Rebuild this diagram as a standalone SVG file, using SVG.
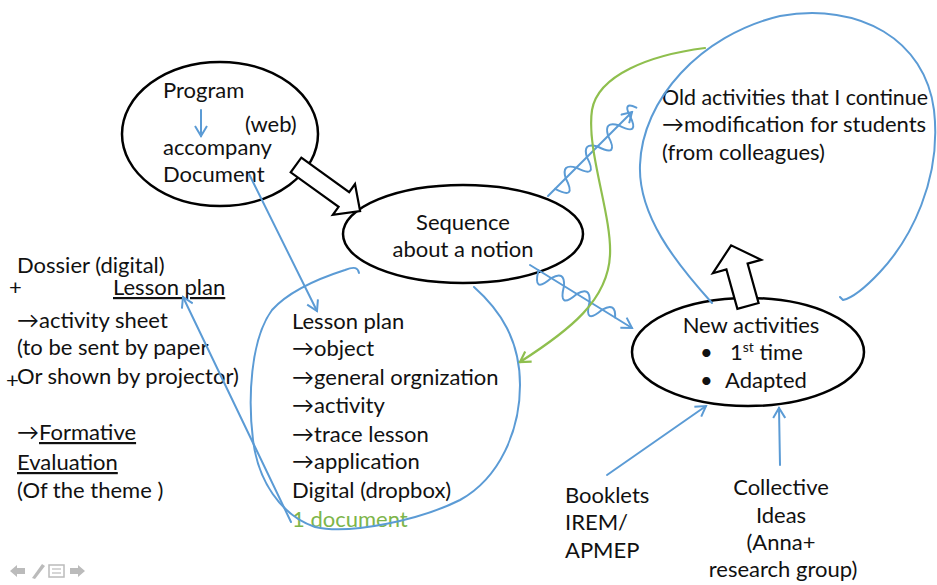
<svg xmlns="http://www.w3.org/2000/svg" width="937" height="585" viewBox="0 0 937 585">
<style>
text{font-family:Lato,"Open Sans","Liberation Sans",sans-serif;font-size:22px;fill:#111}
.ell{fill:#fff;stroke:#000;stroke-width:2.5}
.blk{fill:#fff;stroke:#000;stroke-width:2.2;stroke-linejoin:miter}
.bl{fill:none;stroke:#5b9bd5;stroke-width:2;stroke-linecap:round;stroke-linejoin:round}
.gr{fill:none;stroke:#8fbf4e;stroke-width:2.2;stroke-linecap:round}
.u{text-decoration:underline}
.nav{fill:#bbb}
</style>
<defs>
<marker id="ab" viewBox="-12 -7 14 14" refX="0" refY="0" markerWidth="14" markerHeight="14" markerUnits="userSpaceOnUse" orient="auto">
<path d="M-10,-6 L0,0 L-10,6" fill="none" stroke="#5b9bd5" stroke-width="2"/>
</marker>
<marker id="ag" viewBox="-12 -7 14 14" refX="0" refY="0" markerWidth="14" markerHeight="14" markerUnits="userSpaceOnUse" orient="auto">
<path d="M-10,-6 L0,0 L-10,6" fill="none" stroke="#8fbf4e" stroke-width="2.2"/>
</marker>
</defs>
<rect width="937" height="585" fill="#fff"/>

<g id="program">
<ellipse class="ell" cx="220" cy="134" rx="98" ry="72"/>
<text x="163" y="98">Program</text>
<text x="245" y="132">(web)</text>
<text x="163" y="155">accompany</text>
<text x="163" y="182">Document</text>
</g>

<g id="sequence">
<ellipse class="ell" cx="463" cy="234" rx="120" ry="49"/>
<text x="463" y="230" text-anchor="middle">Sequence</text>
<text x="463" y="257" text-anchor="middle">about a notion</text>
</g>

<g id="new-activities">
<ellipse class="ell" cx="748" cy="352" rx="116" ry="54"/>
<text x="751" y="333" text-anchor="middle">New activities</text>
<text x="700" y="360">•</text>
<text x="730" y="360">1<tspan font-size="14" dy="-8">st</tspan><tspan dy="8"> time</tspan></text>
<text x="700" y="388">•</text>
<text x="725" y="388">Adapted</text>
</g>

<g id="old-activities">
<text x="662" y="105" textLength="266" lengthAdjust="spacingAndGlyphs">Old activities that I continue</text>
<text x="662" y="132">→modification for students</text>
<text x="662" y="160">(from colleagues)</text>
</g>

<g id="dossier">
<text x="17" y="273">Dossier (digital)</text>
<text x="9" y="295">+</text>
<text x="113" y="295" class="u">Lesson plan</text>
<text x="17" y="328">→activity sheet</text>
<text x="17" y="355">(to be sent by paper</text>
<text x="17" y="384">Or shown by projector)</text>
<text x="6" y="388">+</text>
<text x="17" y="440">→<tspan class="u">Formative</tspan></text>
<text x="17" y="470" class="u">Evaluation</text>
<text x="17" y="498">(Of the theme )</text>
</g>

<g id="lesson-plan">
<text x="292" y="329">Lesson plan</text>
<text x="292" y="356">→object</text>
<text x="292" y="385">→general orgnization</text>
<text x="292" y="413">→activity</text>
<text x="292" y="442">→trace lesson</text>
<text x="292" y="469">→application</text>
<text x="292" y="498">Digital (dropbox)</text>
<text x="292" y="527" style="fill:#7db54a">1 document</text>
</g>

<g id="booklets">
<text x="565" y="503">Booklets</text>
<text x="565" y="530">IREM/</text>
<text x="565" y="558">APMEP</text>
</g>

<g id="collective">
<text x="781" y="495" text-anchor="middle">Collective</text>
<text x="781" y="523" text-anchor="middle">Ideas</text>
<text x="781" y="550" text-anchor="middle">(Anna+</text>
<text x="783" y="577" text-anchor="middle">research group)</text>
</g>

<g id="connectors">
<polygon class="blk" points="301.3,157.7 349.2,192.2 355,184.1 360.1,211.1 332.8,214.9 338.6,206.8 290.7,172.3"/>
<polygon class="blk" points="758.6,303.1 747.6,263.6 761.1,259.8 731.1,245.3 712.9,273.2 726.4,269.4 737.4,308.9"/>
<path class="bl" d="M201,110 L201,136" marker-end="url(#ab)"/>
<path class="bl" d="M249,174 L317,311" marker-end="url(#ab)"/>
<path class="bl" d="M291,522 L183,297" marker-end="url(#ab)"/>
<path class="bl" d="M359,273 C358,268 355,266 345,270 C320,278 290,290 272,310 C250,340 248,400 253,440 C258,480 280,515 315,527 C350,535 420,520 460,500 C500,478 520,430 520,385 C520,340 500,310 474,287"/>
<path class="bl" d="M712,303 C675,262 638,215 640,165 C642,100 700,35 780,16 C860,2 925,40 934,110 C942,180 910,240 880,272 C865,288 852,298 843,300 l-3,-3"/>
<path class="bl" d="M548,196 L632,112" marker-end="url(#ab)"/>
<path class="bl" d="M555.1,188.9 Q577.4,200.6 565.7,178.3 Q561.1,163.1 576.3,167.7 Q598.6,179.4 586.9,157.1 Q582.3,141.9 597.5,146.5 Q619.8,158.2 608.1,135.9 Q603.5,120.7 618.7,125.3 Q641,137 629.3,114.7 Q622.9,101.3 636.4,107.6"/>
<path class="bl" d="M530,265 L632,328" marker-end="url(#ab)"/>
<path class="bl" d="M538.5,270.3 Q532.3,294.6 551.3,278.1 Q565,270.2 564,286 Q557.8,310.3 576.8,293.9 Q590.5,285.9 589.6,301.8 Q583.4,326.1 602.3,309.6 Q616,301.7 615.1,317.5"/>
<path class="gr" d="M705,48 C650,55 598,75 592,110 C586,150 612,215 610,255 C608,300 570,330 520,362" marker-end="url(#ag)"/>
<path class="bl" d="M607,475 L706,406" marker-end="url(#ab)"/>
<path class="bl" d="M780,465 L779,408" marker-end="url(#ab)"/>
</g>

<g id="nav">
<polygon class="nav" points="10,571 17,565 17,568 25,568 25,574 17,574 17,577"/>
<polygon class="nav" points="32,578 42,564 45,566 35,579"/>
<rect x="49" y="565" width="15" height="12" fill="none" stroke="#bbb" stroke-width="1.5"/>
<line x1="52" y1="569" x2="61" y2="569" stroke="#bbb" stroke-width="1.2"/>
<line x1="52" y1="573" x2="61" y2="573" stroke="#bbb" stroke-width="1.2"/>
<polygon class="nav" points="85,571 78,565 78,568 70,568 70,574 78,574 78,577"/>
</g>
</svg>
